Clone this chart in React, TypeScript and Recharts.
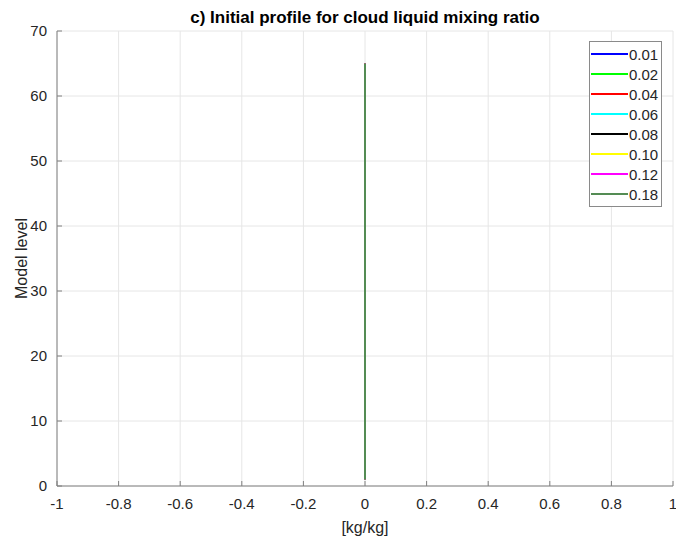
import React from 'react'
import { LineChart, Line, XAxis, YAxis, CartesianGrid } from 'recharts'

// mixing ratio profile lines: every case is zero at all model levels
const levels = [1, 65]
const cases = ['0.01', '0.02', '0.04', '0.06', '0.08', '0.10', '0.12', '0.18']
const caseValues = [
  [0, 0],
  [0, 0],
  [0, 0],
  [0, 0],
  [0, 0],
  [0, 0],
  [0, 0],
  [0, 0],
]
const colors = ['#0000ff', '#00ff00', '#ff0000', '#00ffff', '#000000', '#ffff00', '#ff00ff', '#548c54']
const xTicks = [-1, -0.8, -0.6, -0.4, -0.2, 0, 0.2, 0.4, 0.6, 0.8, 1]
const yTicks = [0, 10, 20, 30, 40, 50, 60, 70]

const data = levels.map((lev, i) => {
  const row: Record<string, number> = { level: lev }
  cases.forEach((c, k) => { row['c' + k] = caseValues[k][i] })
  return row
})

const font = '"Liberation Sans", Arial, Helvetica, sans-serif'

function LegendBox() {
  return (
    <div style={{
      position: 'absolute', left: 589, top: 41, width: 73, boxSizing: 'border-box',
      border: '1px solid #8a8a8a', background: '#fff', padding: '2px 0 2px 1px',
      fontFamily: font, fontSize: 15, color: '#262626',
    }}>
      {cases.map((c, k) => (
        <div key={c} style={{ display: 'flex', alignItems: 'center', height: 20 }}>
          <div style={{ width: 37, height: 2, background: colors[k], marginRight: 1 }} />
          <span>{c}</span>
        </div>
      ))}
    </div>
  )
}

export default function App() {
  return (
    <div style={{ position: 'absolute', left: 0, top: 0, width: 676, height: 538, background: '#fff' }}>
      <div style={{
        position: 'absolute', top: 8, left: 57, width: 616, textAlign: 'center',
        fontFamily: font, fontWeight: 'bold', fontSize: 17, color: '#000',
      }}>
        c) Initial profile for cloud liquid mixing ratio
      </div>
      <LineChart
        width={676}
        height={538}
        data={data}
        layout="vertical"
        margin={{ top: 31, right: 3, left: 17, bottom: 22 }}
      >
        <CartesianGrid stroke="#e6e6e6" strokeWidth={1} />
        <XAxis
          type="number"
          dataKey="c0"
          domain={[-1, 1]}
          ticks={xTicks}
          interval={0}
          height={30}
          tickSize={-5}
          tickMargin={13}
          tickLine={{ stroke: '#808080' }}
          axisLine={{ stroke: '#808080' }}
          tick={{ fontSize: 15, fill: '#262626', fontFamily: font, dy: 4 }}
          label={{ value: '[kg/kg]', position: 'insideBottom', offset: -17, fontSize: 16, fill: '#262626', fontFamily: font }}
        />
        <YAxis
          type="number"
          dataKey="level"
          domain={[0, 70]}
          ticks={yTicks}
          reversed
          interval={0}
          width={40}
          tickSize={-5}
          tickMargin={13}
          tickLine={{ stroke: '#808080' }}
          axisLine={{ stroke: '#808080' }}
          tick={{ fontSize: 15, fill: '#262626', fontFamily: font, dx: -2 }}
          label={{ value: 'Model level', angle: -90, position: 'insideLeft', offset: 4, fontSize: 16, fill: '#262626', fontFamily: font, style: { textAnchor: 'middle' } }}
        />
        {cases.map((c, k) => (
          <Line
            key={c}
            dataKey={'c' + k}
            name={c}
            stroke={colors[k]}
            strokeWidth={2}
            dot={false}
            isAnimationActive={false}
          />
        ))}
      </LineChart>
      <LegendBox />
    </div>
  )
}
